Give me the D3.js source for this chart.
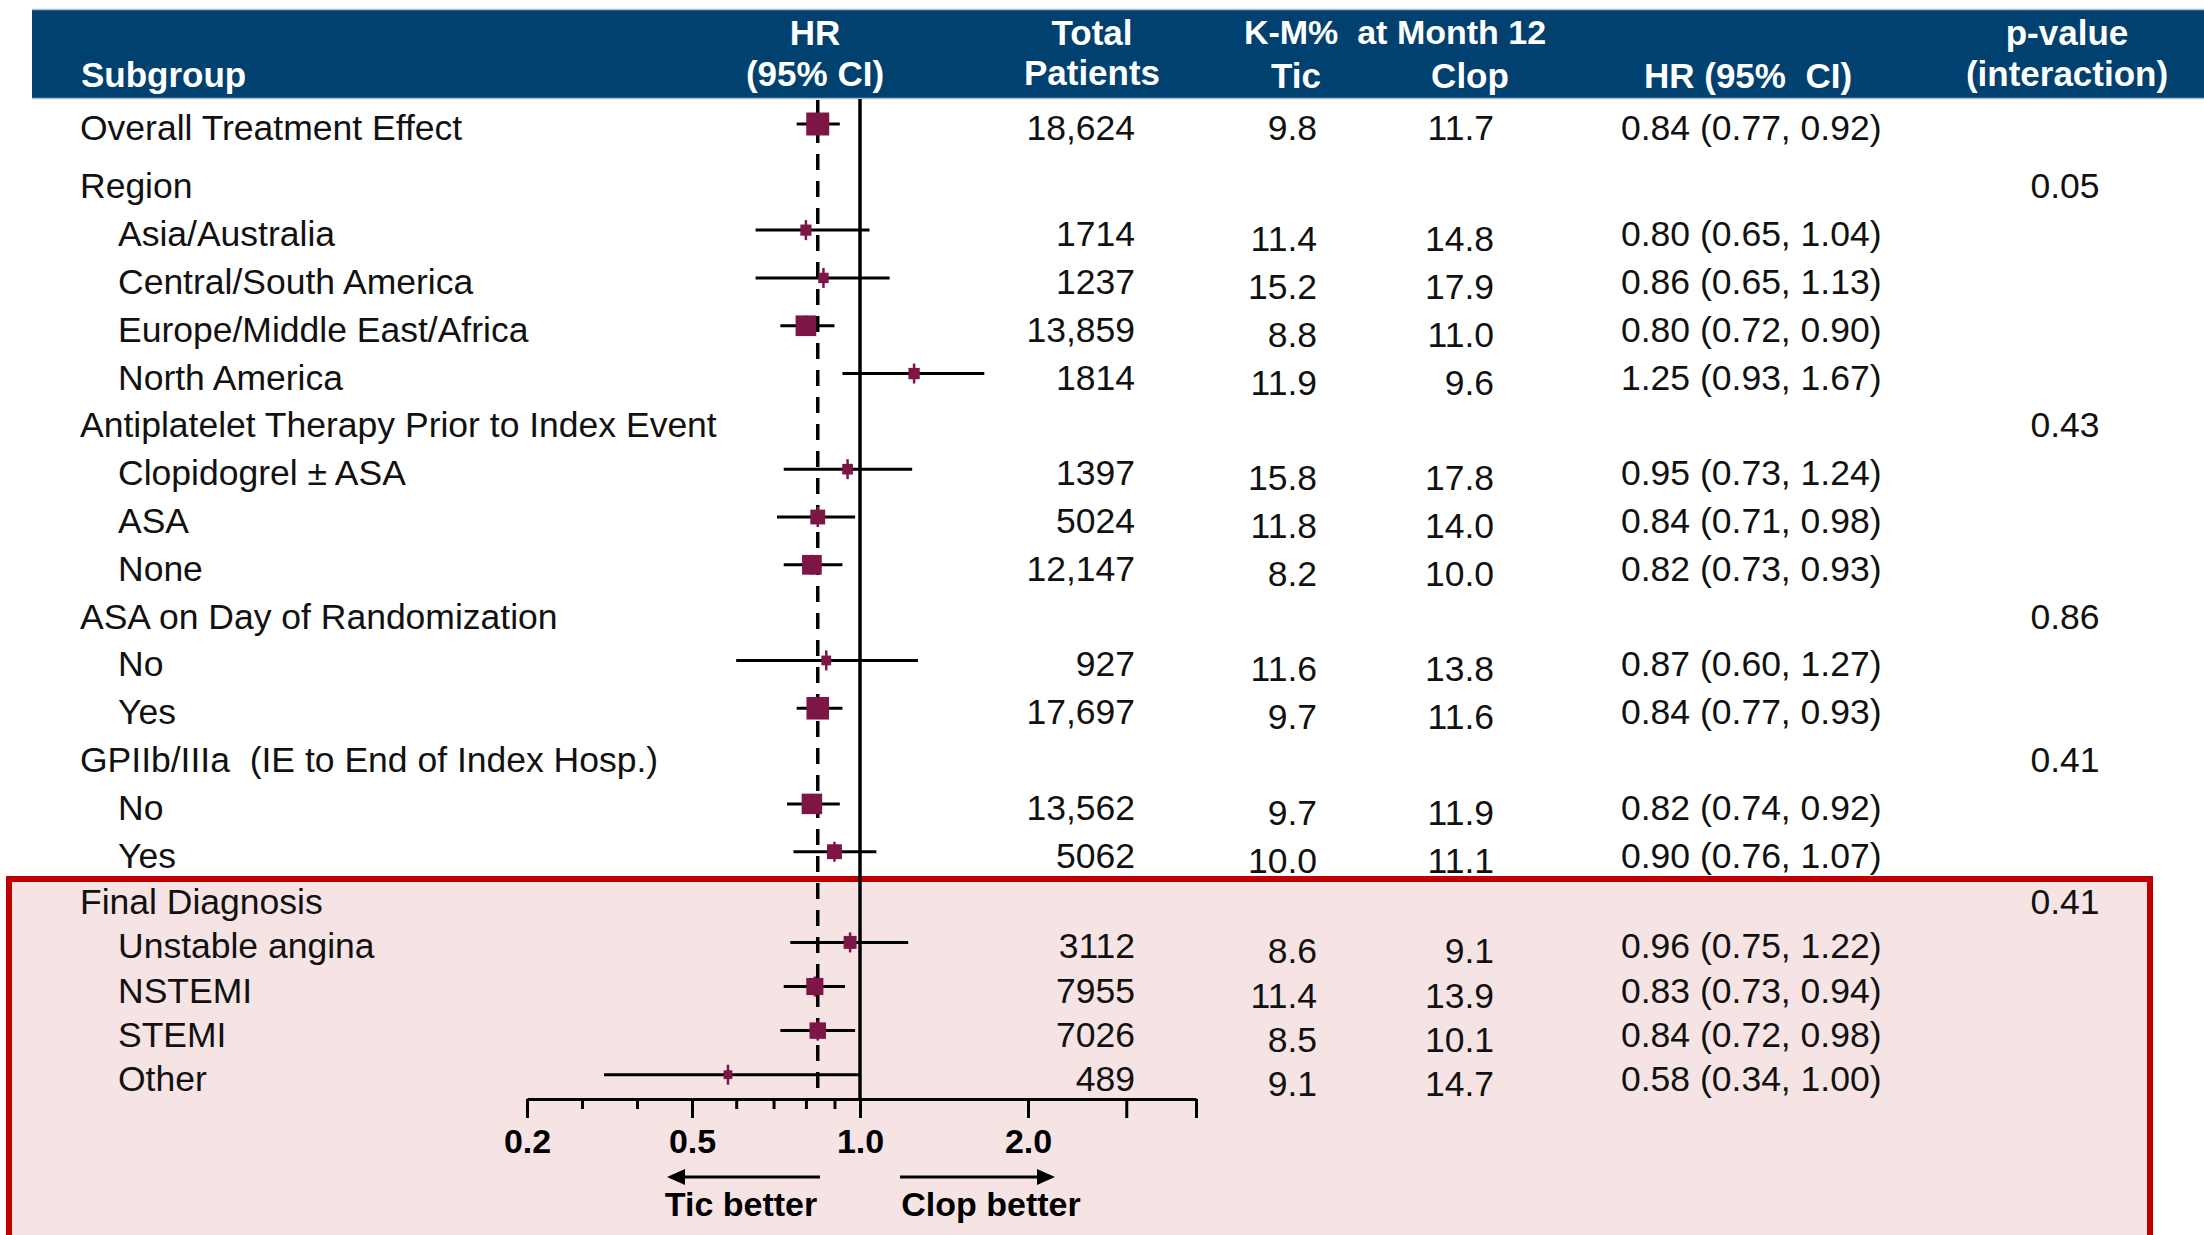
<!DOCTYPE html>
<html>
<head>
<meta charset="utf-8">
<script src="https://cdn.jsdelivr.net/npm/d3@7"></script>
<style>
  body { margin: 0; background: #fff; }
  svg text { white-space: pre; }
</style>
</head>
<body>
<svg id="chart" width="2204" height="1235"></svg>
<script>
// ---- data ----
var subgroups = ["Overall Treatment Effect", "Region", "Asia/Australia", "Central/South America",
    "Europe/Middle East/Africa", "North America", "Antiplatelet Therapy Prior to Index Event",
    "Clopidogrel \u00b1 ASA", "ASA", "None", "ASA on Day of Randomization", "No", "Yes",
    "GPIIb/IIIa  (IE to End of Index Hosp.)", "No", "Yes", "Final Diagnosis",
    "Unstable angina", "NSTEMI", "STEMI", "Other"];
var levels = [0, 0, 1, 1, 1, 1, 0, 1, 1, 1, 0, 1, 1, 0, 1, 1, 0, 1, 1, 1, 1];
var patients = [18624, null, 1714, 1237, 13859, 1814, null, 1397, 5024, 12147, null, 927, 17697,
    null, 13562, 5062, null, 3112, 7955, 7026, 489];
var ticKM = [9.8, null, 11.4, 15.2, 8.8, 11.9, null, 15.8, 11.8, 8.2, null, 11.6, 9.7,
    null, 9.7, 10.0, null, 8.6, 11.4, 8.5, 9.1];
var clopKM = [11.7, null, 14.8, 17.9, 11.0, 9.6, null, 17.8, 14.0, 10.0, null, 13.8, 11.6,
    null, 11.9, 11.1, null, 9.1, 13.9, 10.1, 14.7];
var hr = [0.84, null, 0.80, 0.86, 0.80, 1.25, null, 0.95, 0.84, 0.82, null, 0.87, 0.84,
    null, 0.82, 0.90, null, 0.96, 0.83, 0.84, 0.58];
var ciLow = [0.77, null, 0.65, 0.65, 0.72, 0.93, null, 0.73, 0.71, 0.73, null, 0.60, 0.77,
    null, 0.74, 0.76, null, 0.75, 0.73, 0.72, 0.34];
var ciHigh = [0.92, null, 1.04, 1.13, 0.90, 1.67, null, 1.24, 0.98, 0.93, null, 1.27, 0.93,
    null, 0.92, 1.07, null, 1.22, 0.94, 0.98, 1.00];
var pInteraction = [null, "0.05", null, null, null, null, "0.43", null, null, null, "0.86", null, null,
    "0.41", null, null, "0.41", null, null, null, null];

var axisTicks = [0.2, 0.5, 1, 2, 3, 4];
var axisLabels = ["0.2", "0.5", "1.0", "2.0", "", ""];
var axisMinorLin = [0.3, 0.4];
var axisMinorLog = [0.6, 0.7, 0.8, 0.9];

var headTop = ["HR", "Total", "K-M%  at Month 12", "p-value"];
var headBottom = ["Subgroup", "(95% CI)", "Patients", "Tic", "Clop", "HR (95%  CI)", "(interaction)"];

// ---- setup ----
var svg = d3.select("#chart"),
    font = "'Liberation Sans', Arial, sans-serif",
    navy = "#01416f",
    maroon = "#7e1547",
    ink = "#111",
    bodySize = 35.5;

var rows = subgroups.map(function (name, i) {
    return {i: i, name: name, level: levels[i], n: patients[i], tic: ticKM[i], clop: clopKM[i],
        hr: hr[i], lo: ciLow[i], hi: ciHigh[i], p: pInteraction[i]};
});

// rows are not evenly spaced on the slide: the last block is a bit tighter
var y = d3.scaleLinear().domain([0, 1, 15, 16, 20]).range([140, 198.3, 867.7, 914.3, 1090.7]);

// left part of the HR axis is linear (0.2-0.5), the rest is log
var xLin = d3.scaleLinear().domain([0.2, 0.5]).range([527, 692]);
var xLog = d3.scaleLog().domain([0.5, 4]).range([692, 1196]);
function x(v) {
    return v < 0.5 ? xLin(v) : xLog(v);
}

var size = d3.scaleSqrt().domain([0, 18624]).range([6, 23]);
var fmtN = function (n) { return n >= 10000 ? d3.format(",")(n) : String(n); };
var f1 = d3.format(".1f"), f2 = d3.format(".2f");

var col = {label: 80, indent: 118, n: 1135, tic: 1317, clop: 1494, hr: 1621, p: 2065};

// ---- header band ----
svg.append("rect").attr("x", 32).attr("y", 10).attr("width", 2172).attr("height", 88).attr("fill", navy);
svg.append("line").attr("x1", 32).attr("x2", 2204).attr("y1", 9.5).attr("y2", 9.5)
        .attr("stroke", "#a7bdd2").attr("stroke-width", 1.5);
svg.append("line").attr("x1", 32).attr("x2", 2204).attr("y1", 98.5).attr("y2", 98.5)
        .attr("stroke", "#a7bdd2").attr("stroke-width", 1.5);

var headG = svg.append("g").attr("font-family", font).attr("font-weight", "bold")
        .attr("font-size", 35).attr("fill", "#fff");
var topX = [815, 1092, 1395, 2067], topY = [45, 45, 44, 45];
headTop.forEach(function (t, i) {
    headG.append("text").attr("x", topX[i]).attr("y", topY[i]).attr("text-anchor", "middle")
            .attr("font-size", i === 2 ? 34 : 35).text(t);
});
var botX = [81, 815, 1092, 1296, 1470, 1748, 2067], botY = [87, 86, 85, 88, 88, 88, 86];
headBottom.forEach(function (t, i) {
    headG.append("text").attr("x", botX[i]).attr("y", botY[i])
            .attr("text-anchor", i === 0 ? "start" : "middle").text(t);
});

// ---- row text ----
function drawRowText(g, data) {
    g.selectAll("text.lab").data(data).join("text").attr("class", "lab")
            .attr("x", function (d) { return d.level ? col.indent : col.label; })
            .attr("y", function (d) { return y(d.i); })
            .text(function (d) { return d.name; });
    var vals = data.filter(function (d) { return d.n != null; });
    g.selectAll("text.n").data(vals).join("text").attr("class", "n")
            .attr("x", col.n).attr("y", function (d) { return y(d.i); })
            .attr("text-anchor", "end").text(function (d) { return fmtN(d.n); });
    g.selectAll("text.tic").data(vals).join("text").attr("class", "tic")
            .attr("x", col.tic).attr("y", function (d) { return y(d.i) + (d.i ? 5 : 0); })
            .attr("text-anchor", "end").text(function (d) { return f1(d.tic); });
    g.selectAll("text.clop").data(vals).join("text").attr("class", "clop")
            .attr("x", col.clop).attr("y", function (d) { return y(d.i) + (d.i ? 5 : 0); })
            .attr("text-anchor", "end").text(function (d) { return f1(d.clop); });
    g.selectAll("text.hr").data(vals).join("text").attr("class", "hr")
            .attr("x", col.hr).attr("y", function (d) { return y(d.i); })
            .text(function (d) { return f2(d.hr) + " (" + f2(d.lo) + ", " + f2(d.hi) + ")"; });
    g.selectAll("text.p").data(data.filter(function (d) { return d.p; })).join("text").attr("class", "p")
            .attr("x", col.p).attr("y", function (d) { return y(d.i); })
            .attr("text-anchor", "middle").text(function (d) { return d.p; });
}

var upper = svg.append("g").attr("font-family", font).attr("font-size", bodySize).attr("fill", ink);
drawRowText(upper, rows.filter(function (d) { return d.i < 16; }));

// highlighted block (drawn over the row above it, as on the slide)
svg.append("rect").attr("x", 9).attr("y", 879).attr("width", 2141).attr("height", 400)
        .attr("fill", "#f6e4e5").attr("stroke", "#c00000").attr("stroke-width", 6);

var lower = svg.append("g").attr("font-family", font).attr("font-size", bodySize).attr("fill", ink);
drawRowText(lower, rows.filter(function (d) { return d.i >= 16; }));

// ---- forest plot ----
var plot = svg.append("g");
var axisY = 1099;

plot.append("line").attr("x1", x(hr[0])).attr("x2", x(hr[0])).attr("y1", 100).attr("y2", axisY)
        .attr("stroke", "#000").attr("stroke-width", 3.5).attr("stroke-dasharray", "16,11");
plot.append("line").attr("x1", x(1)).attr("x2", x(1)).attr("y1", 99).attr("y2", axisY)
        .attr("stroke", "#000").attr("stroke-width", 3.5);

var est = rows.filter(function (d) { return d.hr != null; });
plot.selectAll("line.ci").data(est).join("line").attr("class", "ci")
        .attr("x1", function (d) { return x(d.lo); })
        .attr("x2", function (d) { return x(d.hi); })
        .attr("y1", function (d) { return y(d.i) - 16; })
        .attr("y2", function (d) { return y(d.i) - 16; })
        .attr("stroke", "#000").attr("stroke-width", 3);
plot.selectAll("rect.pt").data(est).join("rect").attr("class", "pt")
        .attr("x", function (d) { return x(d.hr) - size(d.n) / 2; })
        .attr("y", function (d) { return y(d.i) - 16 - size(d.n) / 2; })
        .attr("width", function (d) { return size(d.n); })
        .attr("height", function (d) { return size(d.n); })
        .attr("fill", maroon);
plot.selectAll("line.pt").data(est).join("line").attr("class", "pt")
        .attr("x1", function (d) { return x(d.hr); })
        .attr("x2", function (d) { return x(d.hr); })
        .attr("y1", function (d) { return y(d.i) - 26; })
        .attr("y2", function (d) { return y(d.i) - 6; })
        .attr("stroke", maroon).attr("stroke-width", 2.5);

// ---- axis ----
function tickLabel(v) {
    var k = axisTicks.indexOf(v);
    return k < 0 ? "" : axisLabels[k];
}
function styleAxis(g) {
    g.attr("color", "#000").attr("font-family", font).attr("font-size", 34).attr("font-weight", "bold");
    g.selectAll("line, path").attr("stroke-width", 3);
    g.selectAll("text").attr("fill", "#000");
}
var axG = svg.append("g").attr("transform", "translate(0," + axisY + ")");
axG.append("g").call(d3.axisBottom(xLin).tickValues(axisTicks.filter(function (v) { return v <= 0.5; }))
        .tickSize(19).tickSizeOuter(0).tickPadding(11).tickFormat(tickLabel)).call(styleAxis);
axG.append("g").call(d3.axisBottom(xLog).tickValues(axisTicks.filter(function (v) { return v > 0.5; }))
        .tickSize(19).tickSizeOuter(0).tickPadding(11).tickFormat(tickLabel)).call(styleAxis);
axG.append("g").call(d3.axisBottom(xLin).tickValues(axisMinorLin).tickSize(10).tickFormat(""))
        .call(styleAxis).call(function (g) { g.select(".domain").remove(); });
axG.append("g").call(d3.axisBottom(xLog).tickValues(axisMinorLog).tickSize(10).tickFormat(""))
        .call(styleAxis).call(function (g) { g.select(".domain").remove(); });

// direction arrows
var one = x(1), ay = 1177;
var arrows = svg.append("g");
arrows.append("line").attr("x1", one - 40).attr("x2", one - 180).attr("y1", ay).attr("y2", ay)
        .attr("stroke", "#000").attr("stroke-width", 3);
arrows.append("path").attr("d", d3.line()([[one - 193, ay], [one - 175, ay - 8], [one - 175, ay + 8]]) + "Z")
        .attr("fill", "#000");
arrows.append("line").attr("x1", one + 40).attr("x2", one + 182).attr("y1", ay).attr("y2", ay)
        .attr("stroke", "#000").attr("stroke-width", 3);
arrows.append("path").attr("d", d3.line()([[one + 195, ay], [one + 177, ay - 8], [one + 177, ay + 8]]) + "Z")
        .attr("fill", "#000");
arrows.append("text").attr("x", one - 119).attr("y", 1216).attr("text-anchor", "middle")
        .attr("font-family", font).attr("font-weight", "bold").attr("font-size", 34).text("Tic better");
arrows.append("text").attr("x", one + 131).attr("y", 1216).attr("text-anchor", "middle")
        .attr("font-family", font).attr("font-weight", "bold").attr("font-size", 34).text("Clop better");
</script>
</body>
</html>
